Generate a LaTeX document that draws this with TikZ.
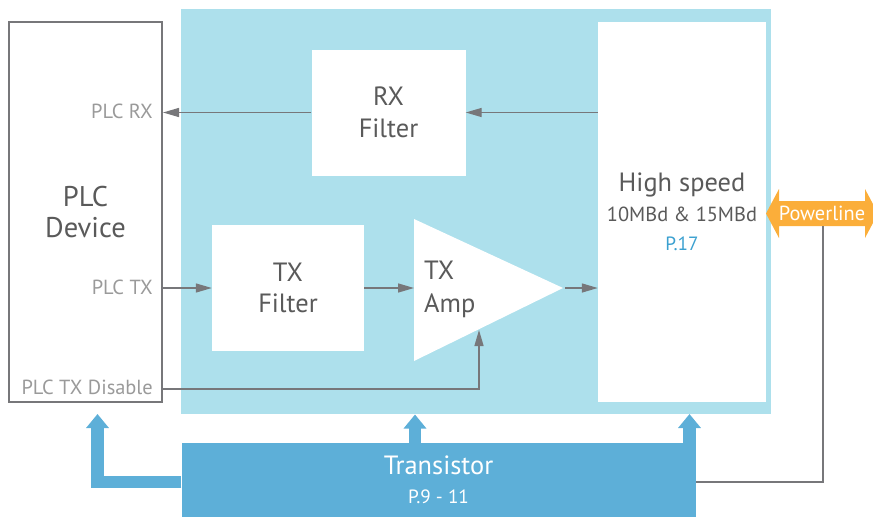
\documentclass[tikz,border=0pt]{standalone}
\usepackage{fontspec}
\setmainfont{PT Sans}
\usetikzlibrary{arrows.meta}
\definecolor{lblue}{HTML}{ADE0EC}
\definecolor{tblue}{HTML}{5DAFD8}
\definecolor{orng}{HTML}{FBAE3A}
\definecolor{lgray}{HTML}{77777A}
\definecolor{tgray}{HTML}{5A5A5A}
\definecolor{sgray}{HTML}{9A9A9A}
\definecolor{pblue}{HTML}{3AA0D0}
\tikzset{
  whitebox/.style={fill=white, draw=none, inner sep=0pt, align=center, text=tgray, font=\fontsize{26.4}{31.5}\selectfont},
  sidelabel/.style={text=sgray, font=\fontsize{20.4}{24}\selectfont, inner sep=0pt, anchor=base east},
  garrow/.style={draw=lgray, line width=1.4pt, -{Triangle[length=16pt,width=9pt]}},
  fatarrow/.style={draw=tblue, line width=12.5pt, line join=miter, -{Triangle[length=14pt,width=22pt]}},
}
\begin{document}
\begin{tikzpicture}[x=1pt,y=-1pt]
\useasboundingbox (0,0) rectangle (873,517);
% core region
\node[fill=lblue, minimum width=590pt, minimum height=405pt, inner sep=0pt] (core) at (476,211.5) {};
% PLC device
\node[draw=lgray, line width=2pt, fill=white, minimum width=153pt, minimum height=380pt, inner sep=0pt,
      align=center, text=tgray, font=\fontsize{28.5}{31}\selectfont] (plc) at (85.5,212) {PLC\\Device};
% RX filter
\node[whitebox, minimum width=154pt, minimum height=126pt] (rx) at (388.5,112.5) {RX\\Filter};
% TX filter
\node[whitebox, minimum width=152pt, minimum height=126pt] (txf) at (288,288) {TX\\Filter};
% High speed
\node[whitebox, minimum width=168pt, minimum height=380pt, font=\fontsize{26.4}{29.5}\selectfont] (hs) at (682,212)
  {High speed\\{\fontsize{20.4}{29.5}\selectfont 10MBd \& 15MBd}\\{\fontsize{19.2}{29.5}\selectfont\color{pblue}P.17}};
% TX amp triangle
\coordinate (ampL) at (414,288);
\coordinate (ampR) at (563,288);
\coordinate (ampB) at (479,330);
\fill[white] (414,219) -- (563,288) -- (414,361) -- cycle;
\node[anchor=west, align=left, text=tgray, font=\fontsize{26.4}{33}\selectfont, inner sep=0pt] (amp) at (424,289) {TX\\Amp};
% Transistor
\node[fill=tblue, minimum width=514pt, minimum height=74pt, inner sep=0pt, align=center, text=white,
      font=\fontsize{26.4}{29}\selectfont] (trans) at (438.5,480) {Transistor\\{\fontsize{19.2}{29}\selectfont P.9 - 11}};
% Powerline double arrow
\fill[orng] (766,213.5) -- (779,189) -- (779,201) -- (865,201) -- (865,189) -- (878,213.5) -- (865,238) -- (865,226) -- (779,226) -- (779,238) -- cycle;
\node[text=white, font=\fontsize{20.4}{24}\selectfont, inner sep=0pt] (power) at (822,213.5) {Powerline};
\coordinate (pwrbot) at (822.5,226);
% side labels
\node[sidelabel] (plcrx) at (153,118) {PLC RX};
\node[sidelabel] (plctx) at (153,294) {PLC TX};
\node[sidelabel] (plcdis) at (153,394) {PLC TX Disable};
% gray connectors
\draw[garrow] (rx.west) -- (plc.east |- rx.west);
\draw[garrow] (hs.west |- rx.east) -- (rx.east);
\draw[garrow] (plc.east |- txf.west) -- (txf.west);
\draw[garrow] (txf.east) -- (ampL);
\draw[garrow] ([xshift=2pt]ampR) -- (hs.west |- ampR);
\draw[garrow] (plc.east |- 0,389) -| (ampB);
\draw[draw=lgray, line width=2pt] (pwrbot) |- (trans.east |- 0,482);
% fat blue arrows
\draw[fatarrow] (trans.west |- 0,482) -| (97.5,414);
\draw[fatarrow] (415,444) -- (415,414.5);
\draw[fatarrow] (689.5,444) -- (689.5,414);
\end{tikzpicture}
\end{document}
